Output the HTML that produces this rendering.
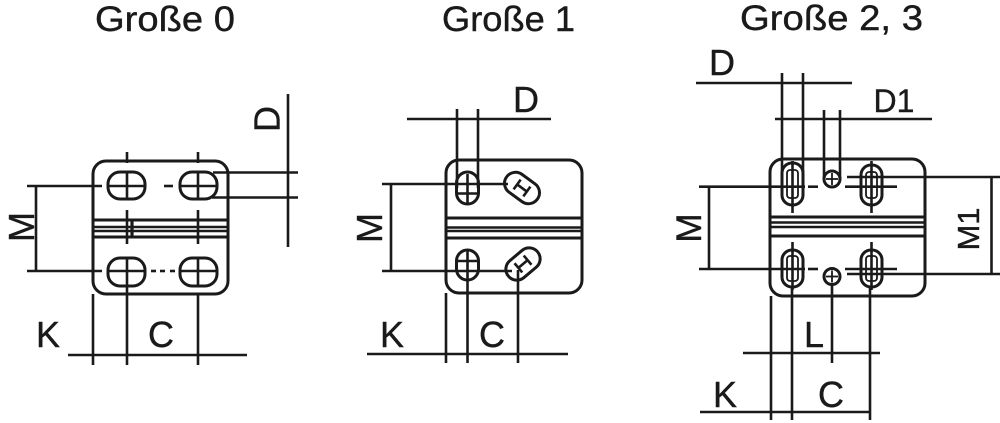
<!DOCTYPE html>
<html><head><meta charset="utf-8"><style>
html,body{margin:0;padding:0;background:#fff;}
svg{display:block;}
text{font-family:"Liberation Sans",sans-serif;fill:#1a1a1a;stroke:#1a1a1a;stroke-width:0.4;}
</style></head><body>
<svg width="1000" height="423" viewBox="0 0 1000 423" xmlns="http://www.w3.org/2000/svg">
<rect width="1000" height="423" fill="#fff"/>
<g stroke="#1a1a1a" stroke-width="2.6" fill="none" stroke-linecap="butt">

<!-- ===== Große 0 ===== -->
<rect x="93" y="161" width="135" height="133" rx="13" stroke-width="3"/>
<line x1="127" y1="152" x2="127" y2="163"/><line x1="198" y1="152" x2="198" y2="163"/>
<line x1="127" y1="210" x2="127" y2="244"/><line x1="198" y1="210" x2="198" y2="244"/>
<line x1="93" y1="220" x2="228" y2="220" stroke-width="3"/>
<line x1="93" y1="227" x2="228" y2="227"/>
<line x1="93" y1="231" x2="228" y2="231"/>
<line x1="93" y1="237" x2="228" y2="237" stroke-width="3"/>
<line x1="132" y1="220" x2="132" y2="237" stroke-width="3.2"/>
<!-- holes -->
<rect x="108" y="172" width="37" height="27" rx="12" stroke-width="3"/>
<line x1="127" y1="172" x2="127" y2="199"/><line x1="108" y1="186" x2="145" y2="186"/>
<rect x="180" y="172" width="37" height="27" rx="12" stroke-width="3"/>
<line x1="198" y1="172" x2="198" y2="199"/><line x1="180" y1="186" x2="217" y2="186"/>
<rect x="108" y="258" width="37" height="28" rx="12" stroke-width="3"/>
<line x1="127" y1="258" x2="127" y2="286"/><line x1="108" y1="271" x2="145" y2="271"/>
<rect x="180" y="258" width="37" height="28" rx="12" stroke-width="3"/>
<line x1="198" y1="258" x2="198" y2="286"/><line x1="180" y1="271" x2="217" y2="271"/>
<!-- center dashes -->
<line x1="164" y1="186" x2="173" y2="186"/>
<line x1="151" y1="271" x2="156" y2="271"/><line x1="160" y1="271" x2="165" y2="271"/><line x1="170" y1="271" x2="175" y2="271"/>
<!-- M dim -->
<line x1="27" y1="186" x2="102" y2="186"/>
<line x1="27" y1="271" x2="102" y2="271"/>
<line x1="36" y1="186" x2="36" y2="271"/>
<!-- D dim -->
<line x1="213" y1="172.5" x2="298" y2="172.5"/>
<line x1="212" y1="197.5" x2="298" y2="197.5"/>
<line x1="288" y1="94" x2="288" y2="247"/>
<!-- K C dims -->
<line x1="93" y1="294" x2="93" y2="365"/>
<line x1="127" y1="286" x2="127" y2="365"/>
<line x1="198" y1="294" x2="198" y2="365"/>
<line x1="68" y1="355" x2="247" y2="355"/>

<!-- ===== Große 1 ===== -->
<rect x="446" y="160" width="136" height="133" rx="13" stroke-width="3"/>
<line x1="446" y1="218" x2="582" y2="218" stroke-width="3"/>
<line x1="446" y1="227.5" x2="582" y2="227.5"/>
<line x1="446" y1="231" x2="582" y2="231"/>
<line x1="446" y1="238" x2="582" y2="238" stroke-width="3"/>
<!-- D dim -->
<line x1="407" y1="119" x2="551" y2="119"/>
<line x1="457" y1="109" x2="457" y2="188"/>
<line x1="478" y1="109" x2="478" y2="188"/>
<!-- top-left hole -->
<rect x="456.5" y="172" width="22" height="32" rx="11" stroke-width="3"/>
<line x1="467.5" y1="174" x2="467.5" y2="204"/>
<line x1="457" y1="193.5" x2="478" y2="193.5"/>
<!-- bottom-left hole -->
<rect x="456.5" y="250" width="22" height="30" rx="11" stroke-width="3"/>
<line x1="467.5" y1="250" x2="467.5" y2="280"/>
<line x1="457" y1="261" x2="478" y2="261"/>
<!-- rotated slots -->
<g transform="translate(522,188) rotate(36)">
<rect x="-19" y="-11" width="38" height="22" rx="11" stroke-width="3"/>
<line x1="-6" y1="-6" x2="-6" y2="6"/><line x1="6" y1="-6" x2="6" y2="6"/><line x1="-6" y1="0" x2="6" y2="0"/>
</g>
<g transform="translate(523,264) rotate(-40)">
<rect x="-19" y="-11" width="38" height="22" rx="11" stroke-width="3"/>
<line x1="-6" y1="-6" x2="-6" y2="6"/><line x1="6" y1="-6" x2="6" y2="6"/><line x1="-6" y1="0" x2="6" y2="0"/>
</g>
<!-- M dim -->
<line x1="382" y1="184" x2="508" y2="184"/>
<line x1="382" y1="271" x2="512" y2="271"/>
<line x1="391" y1="184" x2="391" y2="271"/>
<!-- K C dims -->
<line x1="446" y1="293" x2="446" y2="363"/>
<line x1="467.5" y1="280" x2="467.5" y2="363"/>
<line x1="518" y1="270" x2="518" y2="363"/>
<line x1="367" y1="354" x2="568" y2="354"/>

<!-- ===== Große 2, 3 ===== -->
<rect x="770" y="159" width="155" height="137" rx="13" stroke-width="3"/>
<line x1="770" y1="217" x2="925" y2="217" stroke-width="3"/>
<line x1="770" y1="222.5" x2="925" y2="222.5"/>
<line x1="770" y1="227" x2="925" y2="227"/>
<line x1="770" y1="236" x2="925" y2="236" stroke-width="3"/>
<!-- D dim -->
<line x1="696" y1="83" x2="852" y2="83"/>
<line x1="782" y1="73" x2="782" y2="175"/>
<line x1="803" y1="73" x2="803" y2="175"/>
<!-- D1 dim -->
<line x1="775" y1="119" x2="932" y2="119"/>
<line x1="824" y1="110" x2="824" y2="179"/>
<line x1="840" y1="110" x2="840" y2="179"/>
<!-- small circles -->
<circle cx="832" cy="179" r="8" stroke-width="3"/>
<line x1="826" y1="179" x2="838" y2="179" stroke-width="1.8"/><line x1="832" y1="173" x2="832" y2="185" stroke-width="1.8"/>
<circle cx="832" cy="276.5" r="8" stroke-width="3"/>
<line x1="826" y1="276.5" x2="838" y2="276.5" stroke-width="1.8"/><line x1="832" y1="270.5" x2="832" y2="282.5" stroke-width="1.8"/>
<!-- slots -->
<rect x="782" y="163" width="21" height="42" rx="10" stroke-width="3"/>
<rect x="787" y="170" width="11" height="28" rx="3" stroke-width="1.8"/>
<rect x="861" y="165" width="21" height="40" rx="10" stroke-width="3"/>
<rect x="866" y="172" width="11" height="26" rx="3" stroke-width="1.8"/>
<rect x="782" y="250" width="21" height="37" rx="10" stroke-width="3"/>
<rect x="787" y="256" width="11" height="25" rx="3" stroke-width="1.8"/>
<rect x="861" y="250" width="21" height="37" rx="10" stroke-width="3"/>
<rect x="866" y="256" width="11" height="25" rx="3" stroke-width="1.8"/>
<!-- center ticks -->
<line x1="792.5" y1="161" x2="792.5" y2="213"/>
<line x1="871.5" y1="161" x2="871.5" y2="213"/>
<line x1="792.5" y1="242" x2="792.5" y2="290"/>
<line x1="871.5" y1="242" x2="871.5" y2="290"/>
<!-- M lines -->
<line x1="699" y1="186.7" x2="805" y2="186.7"/>
<line x1="808" y1="186.7" x2="818" y2="186.7"/>
<line x1="845" y1="186.7" x2="897" y2="186.7"/>
<line x1="699" y1="269" x2="805" y2="269"/>
<line x1="808" y1="269" x2="818" y2="269"/>
<line x1="845" y1="269" x2="897" y2="269"/>
<line x1="709" y1="186.7" x2="709" y2="269"/>
<!-- M1 -->
<line x1="847" y1="177" x2="1000" y2="177"/>
<line x1="847" y1="274" x2="1000" y2="274"/>
<line x1="991.5" y1="177" x2="991.5" y2="274"/>
<!-- L dim -->
<line x1="743" y1="353" x2="880" y2="353"/>
<line x1="832" y1="285" x2="832" y2="363"/>
<!-- K C dims -->
<line x1="700" y1="412" x2="870" y2="412"/>
<line x1="771" y1="296" x2="771" y2="420"/>
<line x1="792" y1="287" x2="792" y2="420"/>
<line x1="870" y1="287" x2="870" y2="420"/>
</g>

<!-- ===== Text ===== -->
<text x="95" y="31" font-size="35" textLength="140" lengthAdjust="spacingAndGlyphs">Große 0</text>
<text x="442" y="31" font-size="35" textLength="133" lengthAdjust="spacingAndGlyphs">Große 1</text>
<text x="740" y="30" font-size="35" textLength="183" lengthAdjust="spacingAndGlyphs">Große 2, 3</text>

<text transform="translate(266.5,119) rotate(-90)" x="0" y="13" font-size="36" text-anchor="middle">D</text>
<text transform="translate(21,227) rotate(-90)" x="0" y="13" font-size="36" text-anchor="middle">M</text>
<text x="48" y="347" font-size="36" text-anchor="middle">K</text>
<text x="161" y="347" font-size="36" text-anchor="middle">C</text>

<text x="526" y="112" font-size="36" text-anchor="middle">D</text>
<text transform="translate(369,228) rotate(-90)" x="0" y="13" font-size="36" text-anchor="middle">M</text>
<text x="392" y="347" font-size="36" text-anchor="middle">K</text>
<text x="492" y="347" font-size="36" text-anchor="middle">C</text>

<text x="722" y="75" font-size="36" text-anchor="middle">D</text>
<text x="894" y="112" font-size="32" text-anchor="middle">D1</text>
<text transform="translate(688,228) rotate(-90)" x="0" y="13" font-size="35" text-anchor="middle">M</text>
<text transform="translate(968,229) rotate(-90)" x="0" y="11" font-size="31" text-anchor="middle">M1</text>
<text x="814" y="347" font-size="36" text-anchor="middle">L</text>
<text x="725" y="407" font-size="36" text-anchor="middle">K</text>
<text x="831" y="407" font-size="36" text-anchor="middle">C</text>
</svg>
</body></html>
